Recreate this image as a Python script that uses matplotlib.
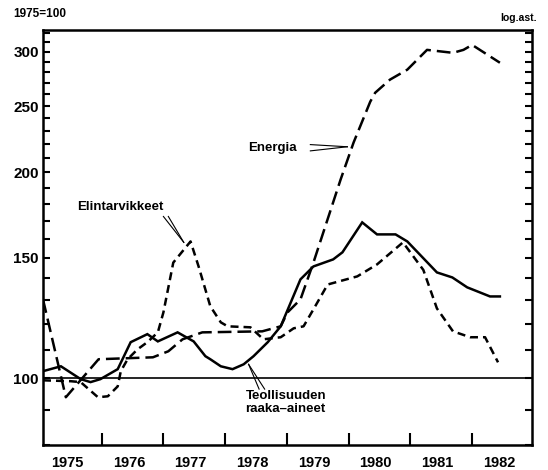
import matplotlib
matplotlib.use('Agg')
import matplotlib.pyplot as plt
from matplotlib.ticker import FixedLocator, FixedFormatter, NullFormatter

# Index 1975=100 (decimal years)
energia_t = [1975.05, 1975.42, 1975.95, 1976.83, 1977.08, 1977.31, 1977.63, 1978.60,
             1978.90, 1979.01, 1979.22, 1979.43, 1979.87, 1980.08, 1980.35, 1980.43,
             1980.67, 1980.95, 1981.27, 1981.69, 1981.86, 1982.00, 1982.45]
energia_v = [130.4, 93.8, 106.6, 107.3, 109.5, 114.0, 116.7, 117.1,
             119.1, 124.8, 130.4, 147.6, 195.2, 221.1, 253.7, 261.5,
             273.3, 282.6, 302.1, 299.1, 302.1, 307.2, 289.3]

elint_t = [1975.05, 1975.50, 1975.66, 1975.94, 1976.10, 1976.26, 1976.31, 1976.42,
           1976.58, 1976.74, 1976.91, 1977.00, 1977.16, 1977.44, 1977.57, 1977.76,
           1977.93, 1978.04, 1978.41, 1978.62, 1978.90, 1979.11, 1979.27, 1979.43,
           1979.66, 1980.14, 1980.46, 1980.88, 1981.21, 1981.43, 1981.69, 1981.97,
           1982.21, 1982.42]
elint_v = [99.3, 99.0, 98.7, 93.8, 94.1, 97.3, 102.4, 106.6,
           110.2, 112.9, 116.7, 124.8, 147.6, 158.5, 145.7, 127.4,
           120.7, 119.1, 118.7, 114.0, 114.8, 118.3, 119.1, 126.1,
           137.1, 140.9, 146.7, 158.0, 144.0, 126.5, 117.1, 114.8,
           114.8, 105.5]

raaka_t = [1975.05, 1975.34, 1975.66, 1975.82, 1975.98, 1976.26, 1976.47, 1976.74,
           1976.91, 1977.23, 1977.49, 1977.68, 1977.76, 1977.93, 1978.12, 1978.30,
           1978.46, 1978.69, 1978.90, 1979.22, 1979.43, 1979.75, 1979.90, 1980.22,
           1980.46, 1980.76, 1980.95, 1981.43, 1981.68, 1981.92, 1982.29, 1982.45]
raaka_v = [102.4, 104.1, 99.7, 98.7, 99.7, 103.1, 112.9, 116.0,
           113.2, 116.7, 113.2, 107.7, 106.6, 104.1, 103.1, 104.8,
           107.7, 112.9, 119.1, 139.5, 145.7, 149.2, 152.8, 169.0,
           162.3, 162.3, 158.5, 142.8, 140.4, 135.8, 131.7, 131.7]

years = ['1975', '1976', '1977', '1978', '1979', '1980', '1981', '1982']
y_major = [100, 150, 200, 250, 300]

plt.rcParams['font.family'] = ['Liberation Sans', 'DejaVu Sans']
plt.rcParams['font.weight'] = 'bold'

fig = plt.figure(figsize=(5.48, 4.70), dpi=100)
ax = fig.add_axes([43 / 548, 1 - 444.5 / 470, (532 - 43) / 548, (444.5 - 30) / 470])

ax.plot(raaka_t, raaka_v, color='black', lw=1.8, solid_joinstyle='miter')
ax.plot(elint_t, elint_v, color='black', lw=1.8, dashes=(3.2, 2.0))
ax.plot(energia_t, energia_v, color='black', lw=1.8, dashes=(5.5, 2.4))
ax.axhline(100, color='black', lw=1.2)

ax.set_yscale('log')
ax.set_ylim(80, 323)
ax.set_xlim(1975.05, 1982.97)

# y axis: ticks every 10 on both sides, labels on the majors
ax.yaxis.set_major_locator(FixedLocator(y_major))
ax.yaxis.set_major_formatter(FixedFormatter([str(v) for v in y_major]))
ax.yaxis.set_minor_locator(FixedLocator([v for v in range(80, 330, 10) if v not in y_major]))
ax.yaxis.set_minor_formatter(NullFormatter())
ax.tick_params(axis='y', which='both', direction='in', left=True, right=True,
               length=5, width=1.5, labelsize=11, pad=3)

# x axis: ticks at year boundaries, labels in between
ax.xaxis.set_major_locator(FixedLocator(list(range(1976, 1983))))
ax.xaxis.set_major_formatter(NullFormatter())
ax.xaxis.set_minor_locator(FixedLocator([int(y) + 0.44 for y in years]))
ax.xaxis.set_minor_formatter(FixedFormatter(years))
ax.tick_params(axis='x', which='major', direction='in', length=8.5, width=1.5)
ax.tick_params(axis='x', which='minor', length=0, labelsize=10.5, pad=8)

for s in ax.spines.values():
    s.set_linewidth(1.8)

# header texts
fig.text(13 / 548, 1 - 14 / 470, '1975=100', fontsize=8.5, va='center', ha='left')
fig.text(537 / 548, 1 - 18 / 470, 'log.ast.', fontsize=7.5, va='center', ha='right')

# series labels with double leader lines
ax.text(1978.77, 217, 'Energia', fontsize=9.5, ha='center', va='center')
ax.plot([1979.38, 1979.98], [219.6, 218], color='black', lw=0.8)
ax.plot([1979.38, 1979.98], [215, 218], color='black', lw=0.8)

ax.text(1975.61, 177.7, 'Elintarvikkeet', fontsize=9.5, ha='left', va='center')
ax.plot([1977.00, 1977.33], [172.4, 158], color='black', lw=0.8)
ax.plot([1977.08, 1977.33], [172.4, 158], color='black', lw=0.8)

ax.text(1978.33, 94.1, 'Teollisuuden', fontsize=9.5, ha='left', va='center')
ax.text(1978.33, 90.1, 'raaka\u2013aineet', fontsize=9.5, ha='left', va='center')
ax.plot([1978.38, 1978.55], [104.8, 96.4], color='black', lw=0.8)
ax.plot([1978.38, 1978.64], [104.8, 96.4], color='black', lw=0.8)

fig.savefig('out.png', dpi=100)
